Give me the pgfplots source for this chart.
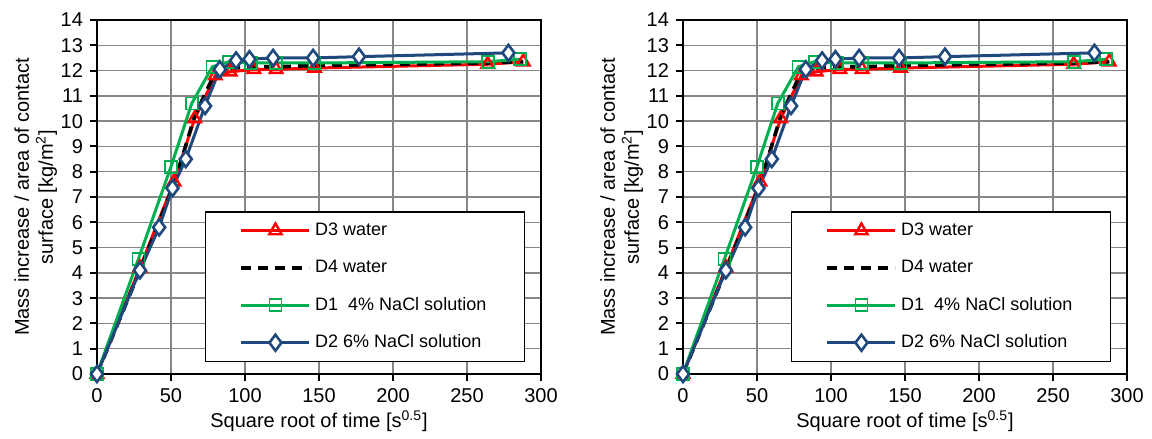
\documentclass[border=0pt]{standalone}
\usepackage{pgfplots}
\pgfplotsset{compat=1.18}
\usepackage{pgfplotstable}
\usepackage{fontspec}
\setmainfont{Liberation Sans}
\definecolor{dred}{RGB}{255,0,0}
\definecolor{dgreen}{RGB}{0,176,80}
\definecolor{dblue}{RGB}{31,73,125}
\definecolor{gridgray}{RGB}{134,134,134}

% D3 water
\pgfplotstableread{
x y
0 0
29 4.2
52 7.6
66 10.1
80 11.8
90 11.95
106 12.05
121 12.05
147 12.1
264 12.25
288 12.35
}\dthree
% D4 water
\pgfplotstableread{
x y
0 0
29 4.1
52 7.5
66 10.2
80 11.95
90 12.1
106 12.15
121 12.15
147 12.2
264 12.3
288 12.35
}\dfour
% D1 4% NaCl
\pgfplotstableread{
x y
0 0
28 4.55
50 8.2
64 10.7
78 12.15
89 12.35
104 12.3
121 12.3
147 12.3
264 12.35
286 12.45
}\done
% D2 6% NaCl
\pgfplotstableread{
x y
0 0
29 4.1
42 5.8
51 7.35
60 8.5
73 10.6
83 12.05
94 12.4
103 12.45
119 12.5
146 12.5
177 12.55
278 12.7
}\dtwo

\pgfplotsset{
  massplot/.style={
    scale only axis, width=222pt, height=177pt,
    xmin=0, xmax=300, ymin=0, ymax=14,
    xtick={0,50,...,300}, ytick={0,1,...,14},
    grid=major, grid style={gridgray, line width=0.75pt},
    axis line style={black, line width=1pt},
    tick style={black, line width=1pt},
    tick align=outside, major tick length=3.5pt,
    xtick pos=bottom, ytick pos=left,
    /pgf/number format/assume math mode=true,
    ticklabel style={font=\fontsize{10}{12}\selectfont},
    label style={font=\fontsize{10}{12}\selectfont},
    xlabel={Square root of time [s\textsuperscript{0.5}]},
    ylabel={Mass increase / area of contact\\surface [kg/m\textsuperscript{2}]},
    ylabel style={align=center, yshift=-5pt},
    xlabel style={yshift=2.5pt},
    clip=false,
    legend cell align=left,
    legend image code/.code={
      \draw[mark repeat=2,mark phase=2,#1] plot coordinates {(0pt,0pt)(17pt,0pt)(34pt,0pt)};
    },
    legend style={at={(0.243,0.46)}, anchor=north west, draw=black, line width=0.75pt,
      font=\fontsize{9}{11}\selectfont, inner xsep=17pt, inner ysep=3.5pt,
      row sep=6.8pt},
  }
}

\newcommand\drawseries{
  \addplot[dred, line width=1.5pt, mark=triangle, mark size=3.6pt,
    mark options={solid, line width=1.2pt}] table {\dthree};
  \addplot[black, line width=1.8pt, dash pattern=on 5pt off 3.5pt] table {\dfour};
  \addplot[dgreen, line width=1.5pt, mark=square, mark size=3pt,
    mark options={solid, line width=0.9pt}] table {\done};
  \addplot[dblue, line width=1.5pt, mark=diamond*, mark size=4pt,
    mark options={solid, line width=1.3pt, fill=white}] table {\dtwo};
  \legend{D3 water, D4 water, D1\ \ 4\% NaCl solution, D2 6\% NaCl solution}
}

\begin{document}
\begin{tikzpicture}
\useasboundingbox (-48.5pt,-32.5pt) rectangle (527.5pt,187pt);
\begin{axis}[massplot]
\drawseries
\end{axis}
\begin{axis}[massplot, at={(293pt,0pt)}]
\drawseries
\end{axis}
\end{tikzpicture}
\end{document}
